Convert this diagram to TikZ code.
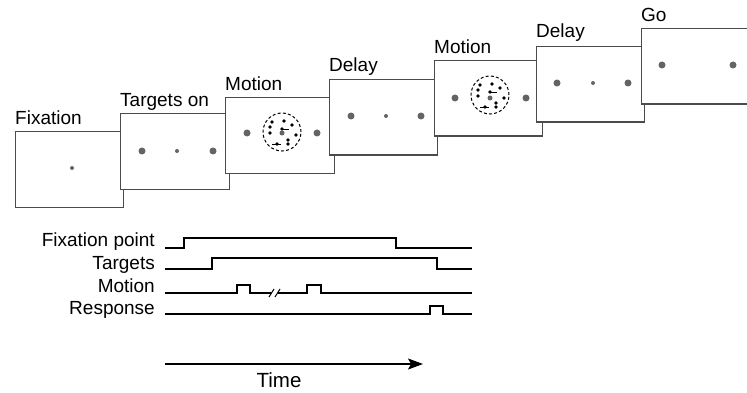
\documentclass[tikz,border=0pt]{standalone}
\usepackage{fontspec}
\setmainfont{Liberation Sans}
\usetikzlibrary{arrows.meta,calc}
\definecolor{frame}{RGB}{75,75,75}
\definecolor{spot}{RGB}{100,100,100}
\tikzset{
  panel/.style={draw=frame, line width=1.2pt, fill=white, rectangle,
    minimum width=108pt, minimum height=75.5pt, anchor=north west, inner sep=0pt},
  title/.style={anchor=base west, inner sep=0pt, font=\fontsize{19}{22}\selectfont},
  rowlabel/.style={anchor=base east, inner sep=0pt, font=\fontsize{19}{22}\selectfont},
  trace/.style={line width=1.1pt, black},
  bigdot/.style={fill=spot, draw=none, circle, minimum size=7pt, inner sep=0pt},
  fixdot/.style={fill=spot, draw=none, circle, minimum size=4pt, inner sep=0pt},
  aperture/.style={draw=black, dashed, dash pattern=on 3pt off 2.2pt, line width=1pt, circle,
    minimum size=38pt, inner sep=0pt},
}
% random-dot motion stimulus centred on a point
\newcommand{\dotfield}[1]{%
  \node[aperture] at (#1) {};
  \foreach \dx/\dy in {-10/-10, 2/-11, -12/-5, 10/-7, -12/1, 14/3, 6/8, 6/12}
    \fill[black] ($(#1)+(\dx,\dy)$) circle (1.8);
  \fill[black] ($(#1)+(0,-3)$) circle (1.8);
  \draw[black, line width=0.8pt] ($(#1)+(0,-3)$) -- ++(7,0);
  \fill[black] ($(#1)+(-5,12)$) circle (1.8);
  \draw[black, line width=0.8pt] ($(#1)+(-10,12)$) -- ++(9,0);
}
\begin{document}
\begin{tikzpicture}[x=1pt, y=-1pt]
\useasboundingbox (0,0) rectangle (747,393);
\begin{scope}
\clip (0,0) rectangle (747,393);

% stimulus panels, each covering the one before it
\node[panel] (p1) at (15,131) {};
\node[title] (t1) at (15,125) {Fixation};
\node[fixdot] (f1) at (72,168) {};

\node[panel, minimum width=109pt] (p2) at (120,113) {};
\node[title] (t2) at (120,107) {Targets on};
\node[bigdot] (a2) at (142,151) {};
\node[fixdot] (f2) at (177,151) {};
\node[bigdot] (b2) at (213,151) {};

\node[panel, minimum width=109pt] (p3) at (225,97) {};
\node[title] (t3) at (225,91) {Motion};
\node[bigdot] (a3) at (247,133) {};
\node[bigdot] (b3) at (317,133) {};
\coordinate (m3) at (282,132);
\dotfield{m3}
\node[fixdot, minimum size=5pt] (f3) at (282,133) {};

\node[panel] (p4) at (329,79) {};
\node[title] (t4) at (329,72) {Delay};
\node[bigdot] (a4) at (351,116) {};
\node[fixdot] (f4) at (386,116) {};
\node[bigdot] (b4) at (421,116) {};

\node[panel] (p5) at (434,60) {};
\node[title] (t5) at (434,54) {Motion};
\node[bigdot] (a5) at (455,98) {};
\node[bigdot] (b5) at (526,98) {};
\coordinate (m5) at (490,95);
\dotfield{m5}
\node[fixdot, minimum size=5pt] (f5) at (490,98) {};

\node[panel] (p6) at (536,46) {};
\node[title] (t6) at (536,38) {Delay};
\node[bigdot] (a6) at (557,83) {};
\node[fixdot] (f6) at (593,83) {};
\node[bigdot] (b6) at (628,83) {};

\node[panel, minimum width=120pt] (p7) at (641,28) {};
\node[title] (t7) at (641,22) {Go};
\node[bigdot] (a7) at (662,65) {};
\node[bigdot] (b7) at (733,65) {};
\end{scope}

% event timing traces
\node[rowlabel] (l1) at (155,246) {Fixation point};
\node[rowlabel] (l2) at (155,269) {Targets};
\node[rowlabel] (l3) at (155,292) {Motion};
\node[rowlabel] (l4) at (155,314) {Response};

\draw[trace] (165,248) -- (184,248) -- (184,238) -- (396,238) -- (396,248) -- (472,248);
\draw[trace] (165,269) -- (212,269) -- (212,258) -- (437,258) -- (437,269) -- (472,269);
\draw[trace] (165,293) -- (237,293) -- (237,285) -- (250,285) -- (250,293) -- (271,293);
\draw[trace] (278,293) -- (307,293) -- (307,285) -- (321,285) -- (321,293) -- (472,293);
\draw[trace, line width=1pt] (269,297) -- (274,289);
\draw[trace, line width=1pt] (275,297) -- (280,289);
\draw[trace] (165,314) -- (430,314) -- (430,306) -- (443,306) -- (443,314) -- (472,314);

% time axis
\coordinate (ts) at (165,364);
\coordinate (te) at (423,364);
\draw[line width=1.2pt, -{Stealth[length=15pt, width=11pt, inset=3pt]}] (ts) -- (te);
\node[anchor=base, inner sep=0pt, font=\fontsize{20.5}{24}\selectfont] (tl) at (279,387) {Time};
\end{tikzpicture}
\end{document}
